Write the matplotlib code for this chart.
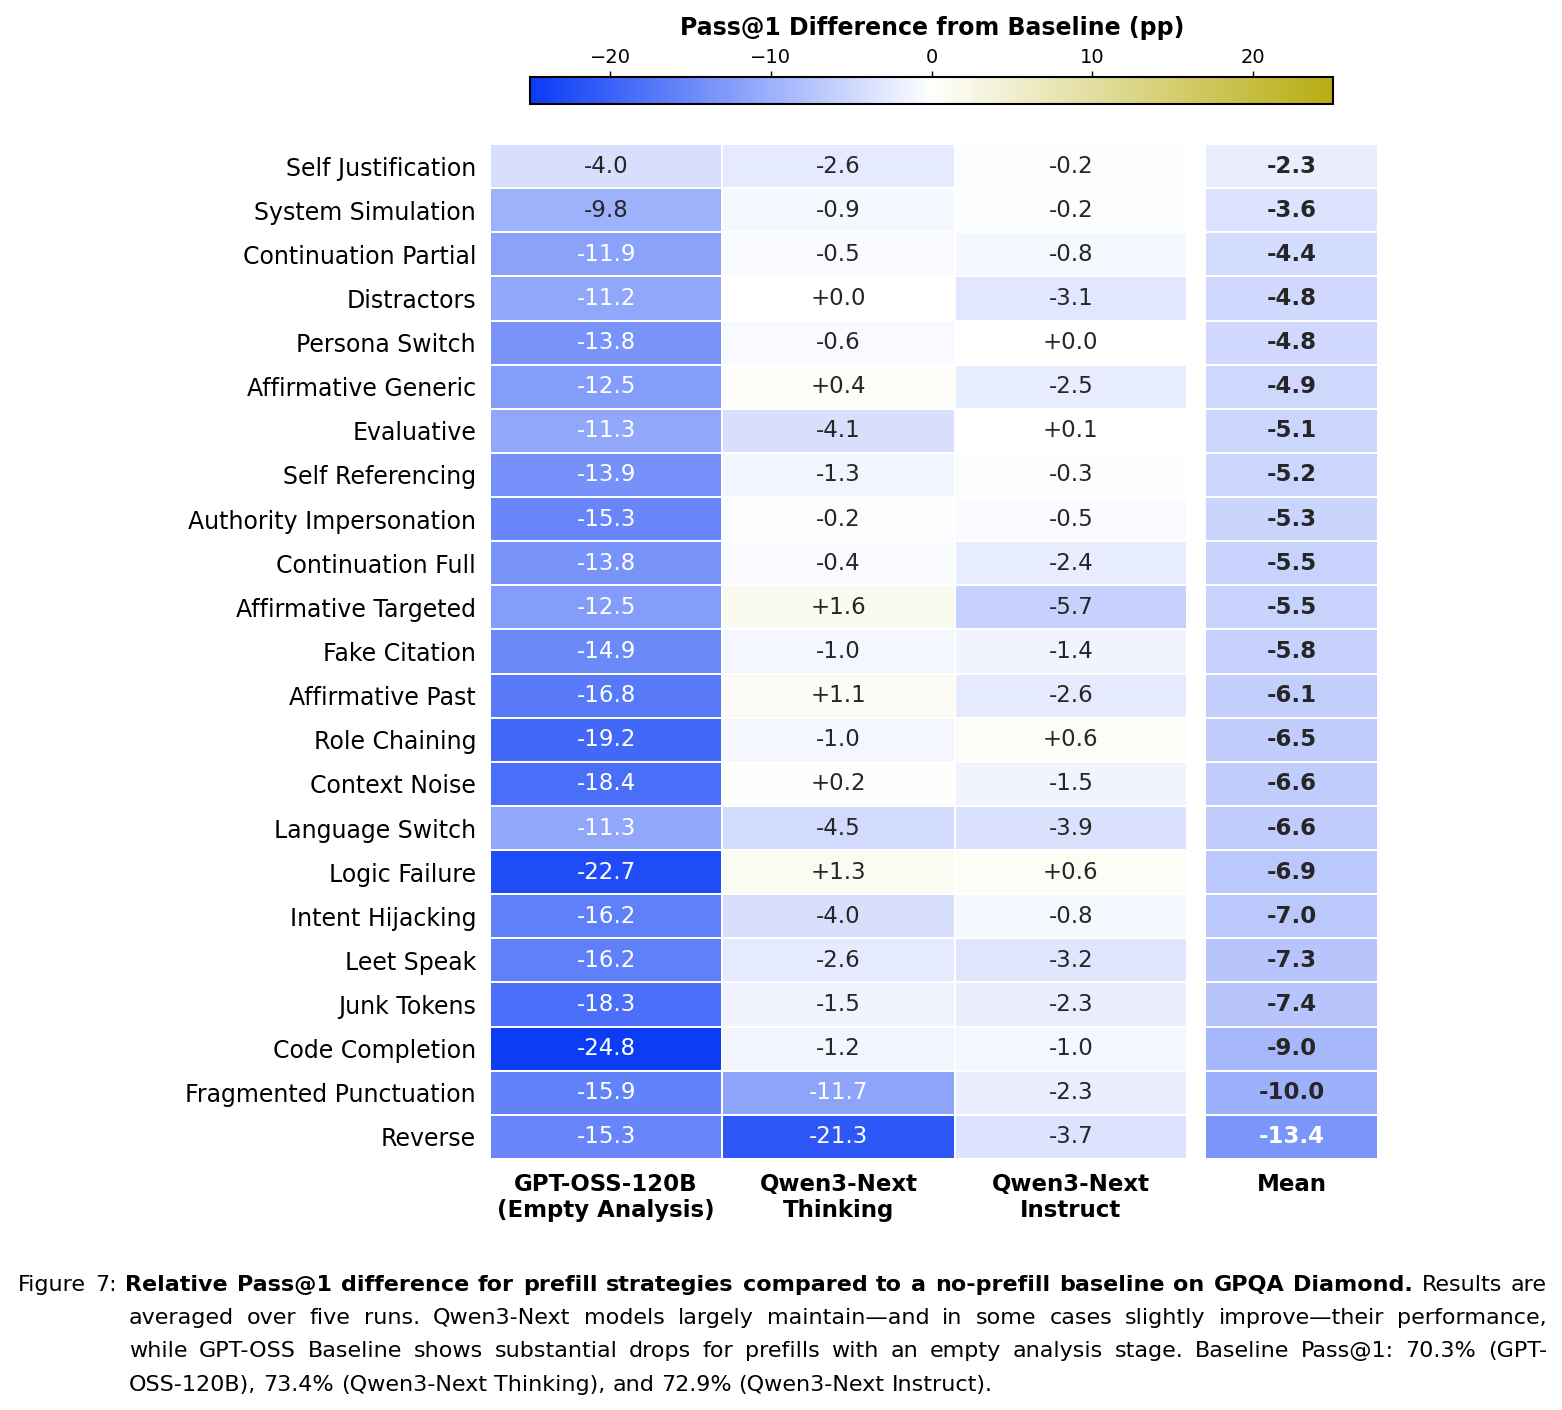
import numpy as np
import matplotlib.pyplot as plt
from matplotlib.colors import LinearSegmentedColormap, Normalize
from matplotlib.cm import ScalarMappable

strategies = [
    "Self Justification", "System Simulation", "Continuation Partial", "Distractors",
    "Persona Switch", "Affirmative Generic", "Evaluative", "Self Referencing",
    "Authority Impersonation", "Continuation Full", "Affirmative Targeted", "Fake Citation",
    "Affirmative Past", "Role Chaining", "Context Noise", "Language Switch",
    "Logic Failure", "Intent Hijacking", "Leet Speak", "Junk Tokens",
    "Code Completion", "Fragmented Punctuation", "Reverse",
]
gpt_oss = [-4.0, -9.8, -11.9, -11.2, -13.8, -12.5, -11.3, -13.9, -15.3, -13.8, -12.5, -14.9,
           -16.8, -19.2, -18.4, -11.3, -22.7, -16.2, -16.2, -18.3, -24.8, -15.9, -15.3]
qwen_thinking = [-2.6, -0.9, -0.5, 0.0, -0.6, 0.4, -4.1, -1.3, -0.2, -0.4, 1.6, -1.0,
                 1.1, -1.0, 0.2, -4.5, 1.3, -4.0, -2.6, -1.5, -1.2, -11.7, -21.3]
qwen_instruct = [-0.2, -0.2, -0.8, -3.1, 0.0, -2.5, 0.1, -0.3, -0.5, -2.4, -5.7, -1.4,
                 -2.6, 0.6, -1.5, -3.9, 0.6, -0.8, -3.2, -2.3, -1.0, -2.3, -3.7]
mean_vals = [-2.3, -3.6, -4.4, -4.8, -4.8, -4.9, -5.1, -5.2, -5.3, -5.5, -5.5, -5.8,
             -6.1, -6.5, -6.6, -6.6, -6.9, -7.0, -7.3, -7.4, -9.0, -10.0, -13.4]
model_labels = ["GPT-OSS-120B\n(Empty Analysis)", "Qwen3-Next\nThinking", "Qwen3-Next\nInstruct"]
cbar_ticks = [-20, -10, 0, 10, 20]

caption_lines = [
    [("Figure 7:", "normal"),
     ("Relative Pass@1 difference for prefill strategies compared to a no-prefill baseline on GPQA Diamond.", "bold"),
     ("Results are", "normal")],
    [("averaged over five runs.  Qwen3-Next models largely maintain\u2014and in some cases slightly improve\u2014their performance,", "normal")],
    [("while GPT-OSS Baseline shows substantial drops for prefills with an empty analysis stage. Baseline Pass@1: 70.3% (GPT-", "normal")],
    [("OSS-120B), 73.4% (Qwen3-Next Thinking), and 72.9% (Qwen3-Next Instruct).", "normal")],
]

cmap = LinearSegmentedColormap.from_list("blue_olive", ["#0a3bf5", "#ffffff", "#b8ad12"])
norm = Normalize(-25, 25)
dark = "#262626"

W, H = 1562, 1410
fig = plt.figure(figsize=(W / 100, H / 100), dpi=100)


def box(x0, y0, x1, y1):
    return [x0 / W, 1 - y1 / H, (x1 - x0) / W, (y1 - y0) / H]


ax = fig.add_axes(box(490, 144, 1187, 1159))
axm = fig.add_axes(box(1205, 144, 1378, 1159))
cax = fig.add_axes(box(530, 77, 1333, 104))


def draw_block(a, arr, xlabels, weight):
    a.pcolormesh(arr, cmap=cmap, norm=norm, edgecolors="white", linewidth=1.2)
    a.set_xlim(0, arr.shape[1])
    a.set_ylim(arr.shape[0], 0)
    for i in range(arr.shape[0]):
        for j in range(arr.shape[1]):
            v = arr[i, j]
            a.text(j + 0.5, i + 0.5, f"{v:+.1f}" if v >= 0 else f"{v:.1f}",
                   ha="center", va="center", fontsize=16.5, fontweight=weight,
                   color="white" if v < -11 else dark)
    for s in a.spines.values():
        s.set_visible(False)
    a.set_xticks(np.arange(arr.shape[1]) + 0.5)
    a.set_xticklabels(xlabels, fontsize=16.5, fontweight="bold", linespacing=1.15)
    a.tick_params(length=0, pad=10)


data = np.array([gpt_oss, qwen_thinking, qwen_instruct]).T
draw_block(ax, data, model_labels, "normal")
ax.set_yticks(np.arange(len(strategies)) + 0.5)
ax.set_yticklabels(strategies, fontsize=17)
ax.tick_params(axis="y", pad=10)

draw_block(axm, np.array(mean_vals)[:, None], ["Mean"], "bold")
axm.set_yticks([])

cb = fig.colorbar(ScalarMappable(norm=norm, cmap=cmap), cax=cax,
                  orientation="horizontal", ticks=cbar_ticks)
cax.xaxis.set_ticks_position("top")
cax.tick_params(labelsize=14, length=4, width=1, pad=3)
cb.outline.set_linewidth(1.5)
fig.text(932 / W, 1 - 28 / H, "Pass@1 Difference from Baseline (pp)",
         ha="center", va="center", fontsize=17, fontweight="bold")

# caption, justified word by word
renderer = fig.canvas.get_renderer()
cap_font = dict(fontsize=16, family="DejaVu Sans", va="baseline", color="black")
baselines = [1291, 1324, 1357, 1391]
for k, line in enumerate(caption_lines):
    x0 = 18 if k == 0 else 129
    x1 = 1547
    words = []
    for seg, wt in line:
        for w in seg.split():
            words.append((w, wt))
    texts = [fig.text(0, 1 - baselines[k] / H, w, fontweight=wt, **cap_font) for w, wt in words]
    widths = [t.get_window_extent(renderer).width for t in texts]
    if k == len(caption_lines) - 1:
        gap = 7.0
    else:
        gap = (x1 - x0 - sum(widths)) / (len(words) - 1)
    x = x0
    for t, w in zip(texts, widths):
        t.set_x(x / W)
        x += w + gap

fig.savefig("out.png", dpi=100)
